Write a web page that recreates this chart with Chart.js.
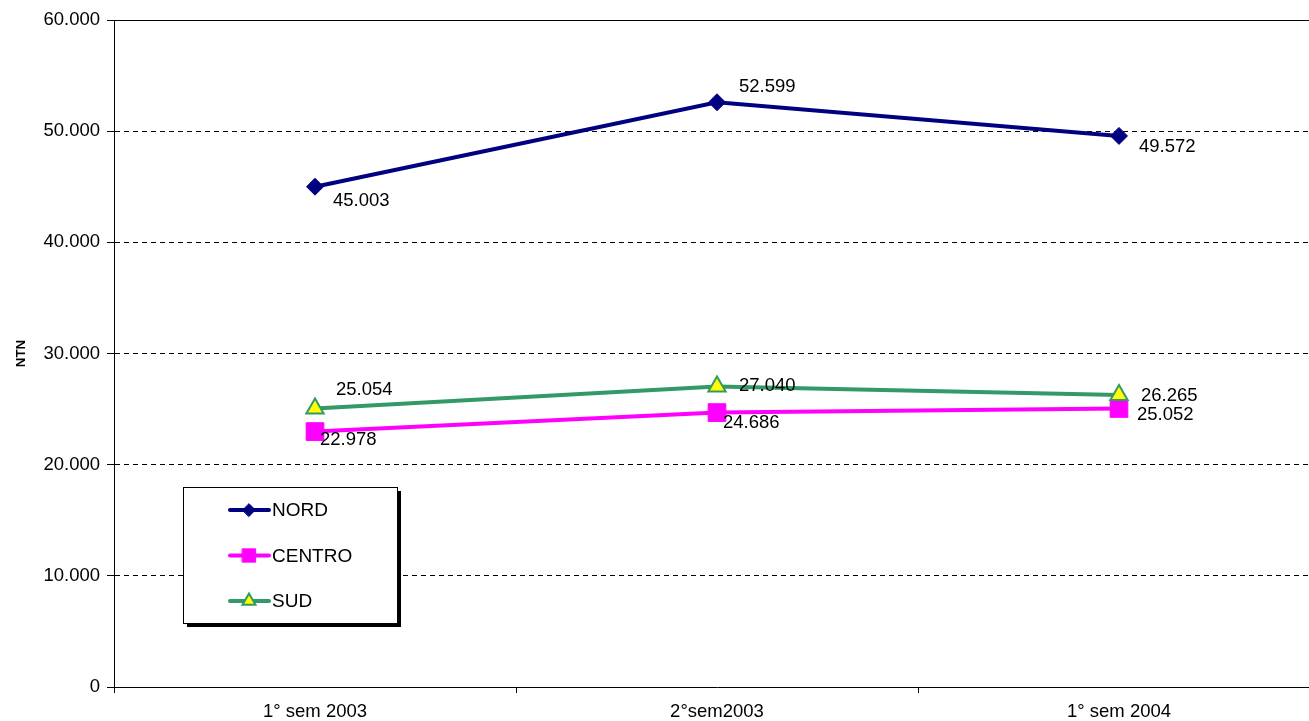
<!DOCTYPE html>
<html>
<head>
<meta charset="utf-8">
<script src="https://cdn.jsdelivr.net/npm/chart.js@4"></script>
<style>
  html, body { margin: 0; padding: 0; background: #fff; overflow: hidden; }
  #ntn-chart { display: block; }
</style>
</head>
<body>
<canvas id="ntn-chart" width="1320" height="721"></canvas>
<script>
const periods = ["1° sem 2003", "2°sem2003", "1° sem 2004"];
const nord = [45003, 52599, 49572];
const centro = [22978, 24686, 25052];
const sud = [25054, 27040, 26265];
const yTicks = [0, 10000, 20000, 30000, 40000, 50000, 60000];

const FONT = "'Liberation Sans', Arial, sans-serif";
const fmt = v => v.toLocaleString("it-IT");

// label offsets from each point (dx, dy)
const labelPos = {
  NORD: [[18, 14], [22, -15], [20, 11]],
  CENTRO: [[5, 8], [6, 10], [18, 6]],
  SUD: [[21, -19], [22, 0], [22, 1]]
};

const valueLabels = {
  id: "valueLabels",
  afterDatasetsDraw(chart) {
    const c = chart.ctx;
    c.save();
    c.font = "18.5px " + FONT;
    c.fillStyle = "#000";
    c.textBaseline = "middle";
    c.textAlign = "left";
    chart.data.datasets.forEach((ds, i) => {
      chart.getDatasetMeta(i).data.forEach((pt, j) => {
        const [dx, dy] = labelPos[ds.label][j];
        c.fillText(fmt(ds.data[j]), pt.x + dx, pt.y + dy);
      });
    });
    c.restore();
  }
};

// solid frame line along the top of the plot
const topLine = {
  id: "topLine",
  beforeDatasetsDraw(chart) {
    const c = chart.ctx, a = chart.chartArea;
    c.save();
    c.strokeStyle = "#000";
    c.lineWidth = 1;
    c.beginPath();
    c.moveTo(a.left, a.top + 0.5);
    c.lineTo(a.right, a.top + 0.5);
    c.stroke();
    c.restore();
  }
};

const boxLegend = {
  id: "boxLegend",
  afterDraw(chart) {
    const c = chart.ctx;
    const x = 183, y = 487, w = 214, h = 136;
    c.save();
    c.fillStyle = "#000";
    c.fillRect(x + 4, y + 4, w, h);
    c.fillStyle = "#fff";
    c.fillRect(x, y, w, h);
    c.strokeStyle = "#000";
    c.lineWidth = 1;
    c.strokeRect(x + 0.5, y + 0.5, w, h);
    c.font = "19px " + FONT;
    c.textBaseline = "middle";
    chart.data.datasets.forEach((ds, i) => {
      const ly = 510 + i * 45.5;
      c.strokeStyle = ds.borderColor;
      c.lineWidth = 4;
      c.lineCap = "round";
      c.beginPath();
      c.moveTo(230, ly);
      c.lineTo(269, ly);
      c.stroke();
      c.fillStyle = ds.pointBackgroundColor;
      c.strokeStyle = ds.pointBorderColor;
      c.lineWidth = ds.pointBorderWidth;
      Chart.helpers.drawPoint(c, {
        pointStyle: ds.pointStyle,
        radius: ds.pointRadius * 0.75,
        borderWidth: ds.pointBorderWidth
      }, 249, ly);
      c.fillStyle = "#000";
      c.fillText(ds.label, 272, ly + 1);
    });
    c.restore();
  }
};

new Chart(document.getElementById("ntn-chart"), {
  type: "line",
  data: {
    labels: periods,
    datasets: [
      {
        label: "NORD", data: nord, order: 3,
        borderColor: "#000080", borderWidth: 4,
        pointStyle: "rectRot", pointRadius: 8.5,
        pointBackgroundColor: "#000080", pointBorderColor: "#000080", pointBorderWidth: 1
      },
      {
        label: "CENTRO", data: centro, order: 2,
        borderColor: "#ff00ff", borderWidth: 4,
        pointStyle: "rect", pointRadius: 12.5,
        pointBackgroundColor: "#ff00ff", pointBorderColor: "#ff00ff", pointBorderWidth: 1
      },
      {
        label: "SUD", data: sud, order: 1,
        borderColor: "#339966", borderWidth: 4,
        pointStyle: "triangle", pointRadius: 10,
        pointBackgroundColor: "#ffff00", pointBorderColor: "#339966", pointBorderWidth: 2
      }
    ]
  },
  options: {
    responsive: false,
    animation: false,
    layout: { autoPadding: false, padding: { top: 20, right: 0 } },
    plugins: {
      legend: { display: false },
      tooltip: { enabled: false }
    },
    scales: {
      x: {
        offset: true,
        afterFit: s => { s.height = 34; s.paddingLeft = 0; s.paddingRight = 0; },
        grid: {
          offset: true, drawOnChartArea: false,
          color: "#000", tickLength: 6
        },
        border: { color: "#000", width: 1 },
        ticks: { color: "#000", font: { family: FONT, size: 18.5 }, padding: 8, maxRotation: 0 }
      },
      y: {
        min: 0, max: 60000,
        afterFit: s => { s.width = 114; },
        afterBuildTicks: s => { s.ticks = yTicks.map(v => ({ value: v })); },
        grid: {
          color: "#000", lineWidth: 1, tickLength: 7,
          tickBorderDash: [], tickColor: "#000"
        },
        border: { color: "#000", width: 1, dash: [5, 4] },
        title: {
          display: true, text: "NTN", color: "#000",
          font: { family: FONT, size: 13.5, weight: "bold" },
          padding: { top: 13, bottom: 0 }
        },
        ticks: {
          color: "#000", font: { family: FONT, size: 18.5 }, padding: 7,
          callback: v => fmt(v)
        }
      }
    }
  },
  plugins: [topLine, valueLabels, boxLegend]
});
</script>
</body>
</html>
